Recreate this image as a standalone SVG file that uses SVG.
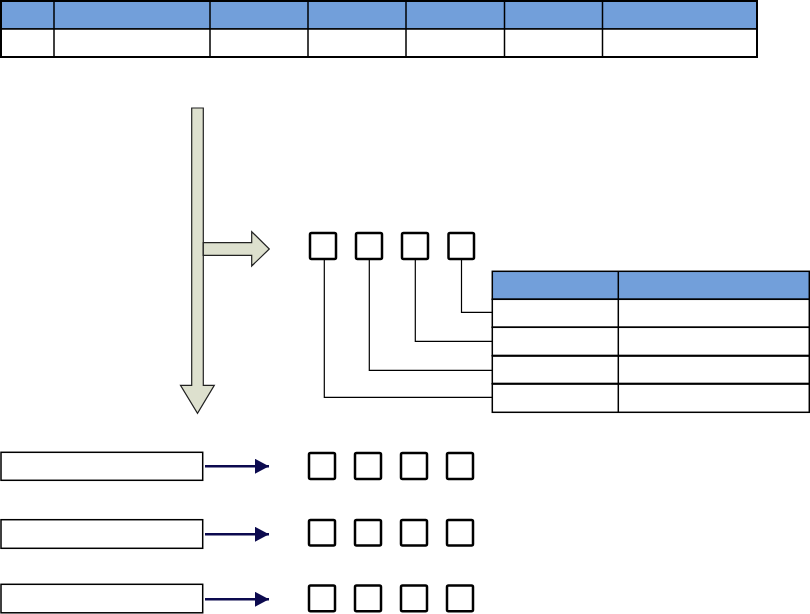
<svg xmlns="http://www.w3.org/2000/svg" width="810" height="614" viewBox="0 0 810 614">
<defs>
<style>
.hdr{fill:#729FDA;stroke:#000;stroke-width:1.5}
.cell{fill:#fff;stroke:#000;stroke-width:1.5}
.sq{fill:#fff;stroke:#000;stroke-width:2.5}
.fat{fill:#DDE0CE;stroke:#222;stroke-width:1.2}
.ln{fill:none;stroke:#000;stroke-width:1.2}
.bar{fill:#fff;stroke:#000;stroke-width:1.5}
.nav{stroke:#0C0A4F;stroke-width:2.5;fill:none}
</style>
<marker id="ah" markerWidth="14" markerHeight="15" refX="14" refY="7.5" orient="auto" markerUnits="userSpaceOnUse">
<path d="M0,0 L14,7.5 L0,15 Z" fill="#0C0A4F"/>
</marker>
</defs>
<rect width="810" height="614" fill="#fff"/>
<g id="top-table">
<rect class="hdr" x="1" y="1" width="756" height="28"/>
<rect class="cell" x="1" y="29" width="756" height="28"/>
<g class="ln" style="stroke-width:1.5">
<line x1="54" y1="1" x2="54" y2="57"/>
<line x1="210" y1="1" x2="210" y2="57"/>
<line x1="308" y1="1" x2="308" y2="57"/>
<line x1="406" y1="1" x2="406" y2="57"/>
<line x1="504.5" y1="1" x2="504.5" y2="57"/>
<line x1="602.5" y1="1" x2="602.5" y2="57"/>
</g>
<rect x="1" y="1" width="756" height="56" fill="none" stroke="#000" stroke-width="2"/>
</g>
<g id="flow-arrow">
<path class="fat" d="M191.7,108 H203.3 V385.3 H214.3 L197.5,413.3 L180.5,385.3 H191.7 Z"/>
<path class="fat" d="M203.3,242.7 H251.7 V231.7 L269.3,249 L251.7,266 V255.3 H203.3 Z"/>
</g>
<g id="top-boxes">
<rect class="sq" x="310" y="233" width="26" height="26" rx="1.5"/>
<rect class="sq" x="356" y="233" width="26" height="26" rx="1.5"/>
<rect class="sq" x="402" y="233" width="26" height="26" rx="1.5"/>
<rect class="sq" x="448.5" y="233" width="25.5" height="26" rx="1.5"/>
</g>
<g id="right-table">
<rect class="hdr" x="492.3" y="271.3" width="317" height="28"/>
<rect class="cell" x="492.3" y="299.3" width="317" height="28"/>
<rect class="cell" x="492.3" y="327.3" width="317" height="28.4"/>
<rect class="cell" x="492.3" y="355.7" width="317" height="28"/>
<rect class="cell" x="492.3" y="383.7" width="317" height="28.6"/>
<line class="ln" style="stroke-width:1.5" x1="618.3" y1="271.3" x2="618.3" y2="412.3"/>
<line x1="492.3" y1="355.7" x2="809.3" y2="355.7" stroke="#000" stroke-width="2"/>
<line x1="492.3" y1="383.7" x2="809.3" y2="383.7" stroke="#000" stroke-width="2"/>
</g>
<g id="bar-1"><rect class="bar" x="1" y="452.3" width="201.7" height="28"/></g>
<g id="bar-2"><rect class="bar" x="1" y="519.7" width="201.7" height="28.6"/></g>
<g id="bar-3"><rect class="bar" x="1" y="584.3" width="201.7" height="28.5"/></g>
<g id="boxes-1">
<rect class="sq" x="309" y="453" width="26" height="26" rx="1.5"/>
<rect class="sq" x="355" y="453" width="26" height="26" rx="1.5"/>
<rect class="sq" x="401" y="453" width="26" height="26" rx="1.5"/>
<rect class="sq" x="447" y="453" width="26" height="26" rx="1.5"/>
</g>
<g id="boxes-2">
<rect class="sq" x="309" y="520" width="26" height="25.5" rx="1.5"/>
<rect class="sq" x="355" y="520" width="26" height="25.5" rx="1.5"/>
<rect class="sq" x="401" y="520" width="26" height="25.5" rx="1.5"/>
<rect class="sq" x="447" y="520" width="26" height="25.5" rx="1.5"/>
</g>
<g id="boxes-3">
<rect class="sq" x="309" y="585.5" width="26" height="25.7" rx="1.5"/>
<rect class="sq" x="355" y="585.5" width="26" height="25.7" rx="1.5"/>
<rect class="sq" x="401" y="585.5" width="26" height="25.7" rx="1.5"/>
<rect class="sq" x="447" y="585.5" width="26" height="25.7" rx="1.5"/>
</g>
<g id="connectors">
<polyline class="ln" points="461.5,259 461.5,312.3 492.3,312.3"/>
<polyline class="ln" points="415.3,259 415.3,341.3 492.3,341.3"/>
<polyline class="ln" points="369.3,259 369.3,370.3 492.3,370.3"/>
<polyline class="ln" points="324.3,259 324.3,397.3 492.3,397.3"/>
<line class="nav" x1="205" y1="466.3" x2="269" y2="466.3" marker-end="url(#ah)"/>
<line class="nav" x1="205" y1="534.3" x2="269" y2="534.3" marker-end="url(#ah)"/>
<line class="nav" x1="205" y1="599.3" x2="269" y2="599.3" marker-end="url(#ah)"/>
</g>
</svg>
